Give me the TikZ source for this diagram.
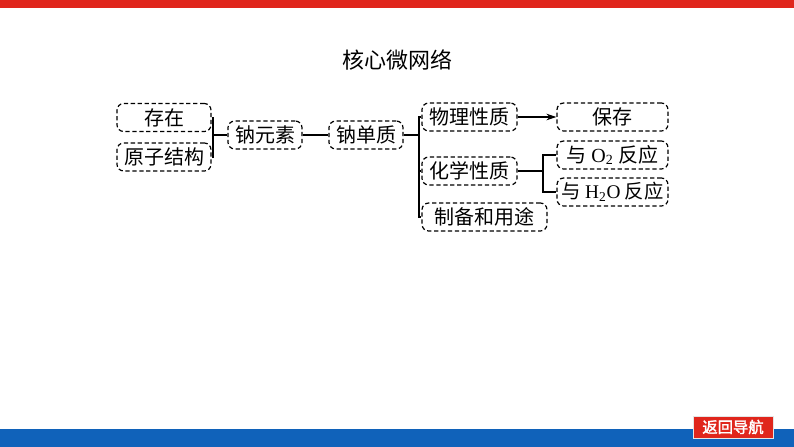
\documentclass[tikz,border=0pt]{standalone}
\usepackage{fontspec}
\usetikzlibrary{arrows.meta}
\setmainfont{Liberation Serif}
\newfontfamily\cjk[AutoFakeBold=2]{Noto Sans CJK SC}
\definecolor{barred}{RGB}{224,38,28}
\definecolor{barblue}{RGB}{16,98,186}
\begin{document}
\begin{tikzpicture}[x=0.75pt,y=-0.75pt,
  box/.style={draw,dashed,dash pattern=on 3.2pt off 2pt,line width=0.9pt,rounded corners=5pt,
    minimum height=21pt,inner sep=0pt,font=\cjk\fontsize{15}{18}\selectfont},
  link/.style={line width=0.9pt}]
\useasboundingbox (0,0) rectangle (794,447);
% top and bottom bars
\fill[barred] (0,0) rectangle (794,8);
\fill[barblue] (0,429) rectangle (794,447);
\node[font=\cjk\fontsize{16.5}{20}\selectfont] (title) at (397,60) {核心微网络};
% left part
\node[box,minimum width=70.5pt] (cunzai) at (164,117.5) {存在};
\node[box,minimum width=70.5pt] (yuanzi) at (164,157) {原子结构};
\node[box,minimum width=55.5pt] (nayuan) at (265,135) {钠元素};
\node[box,minimum width=55.5pt] (nadan) at (366,135) {钠单质};
% properties
\node[box,minimum width=71.25pt] (wuli) at (469.5,117) {物理性质};
\node[box,minimum width=71.25pt] (huaxue) at (469.5,171) {化学性质};
\node[box,minimum width=93.75pt] (zhibei) at (484.5,217) {制备和用途};
% right column
\node[box,minimum width=83.25pt] (baocun) at (612.5,117) {保存};
\node[box,minimum width=83.25pt] (yuO) at (612.5,155) {与 {\rmfamily O\textsubscript{2}} 反应};
\node[box,minimum width=83.25pt,font=\cjk\fontsize{14.5}{18}\selectfont] (yuHO) at (612.5,192) {与 {\rmfamily H\textsubscript{2}O} 反应};
% brackets
\coordinate (b1) at (213,135);
\coordinate (b2) at (419,135);
\coordinate (b3) at (543,171);
\draw[link] (cunzai.east) -| (b1) |- (yuanzi.east);
\draw[link] (b1) -- (nayuan.west);
\draw[link] (nayuan.east) -- (nadan.west);
\draw[link] (nadan.east) -- (b2);
\draw[link] (wuli.west) -| (b2) |- (zhibei.west);
\draw[link] (b2 |- huaxue.west) -- (huaxue.west);
\draw[link] (huaxue.east) -- (b3);
\draw[link] (yuO.west) -| (b3) |- (yuHO.west);
\draw[link,-{Stealth[length=7.5pt,width=5pt]}] (wuli.east) -- (baocun.west);
% back button
\node[fill=barred,draw=white!80!gray,text=white,font=\cjk\bfseries\fontsize{11.5}{14}\selectfont,
  minimum width=60pt,minimum height=16.5pt,inner sep=0pt] (back) at (733,427) {返回导航};
\end{tikzpicture}
\end{document}
